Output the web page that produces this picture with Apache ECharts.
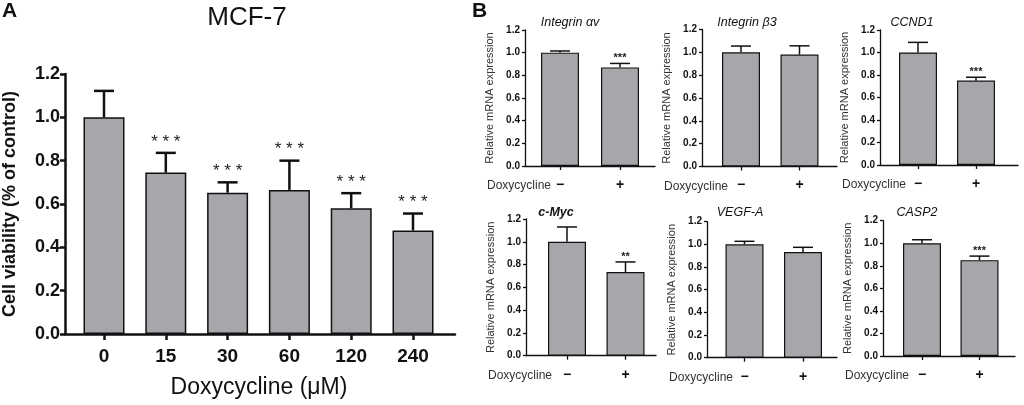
<!DOCTYPE html>
<html>
<head>
<meta charset="utf-8">
<script src="https://cdn.jsdelivr.net/npm/echarts@6/dist/echarts.min.js"></script>
<style>
html, body { margin: 0; padding: 0; background: #fff; }
#main { width: 1024px; height: 405px; }
</style>
</head>
<body>
<div id="main"></div>
<script>
// panel A - MCF-7 cell viability
const doses = ['0', '15', '30', '60', '120', '240'];
const viability = [1.0, 0.745, 0.652, 0.665, 0.58, 0.478];
const viabilityErr = [0.122, 0.091, 0.048, 0.135, 0.07, 0.078];
const viabilityStars = ['', '* * *', '* * *', '* * *', '* * *', '* * *'];

// panel B - relative mRNA expression
const treatment = ['−', '+'];
const genes = ['Integrin αv', 'Integrin β3', 'CCND1', 'c-Myc', 'VEGF-A', 'CASP2'];
const geneMean = [[1.0, 0.87], [1.0, 0.98], [1.0, 0.75], [1.0, 0.735], [1.0, 0.932], [1.0, 0.85]];
const geneErr = [[0.015, 0.035], [0.055, 0.077], [0.09, 0.03], [0.13, 0.088], [0.027, 0.042], [0.031, 0.036]];
const geneStars = [['', '***'], ['', ''], ['', '***'], ['', '**'], ['', ''], ['', '***']];

const FONT = '"Liberation Sans", Arial, sans-serif';
const BAR = '#a6a6ab';
const INK = '#111';

// where each small plot of panel B sits
const layoutB = [
    { frame: [525, 655], first: 560, step: 60, top: 30, zero: 166, titleX: 570, titleY: 23 },
    { frame: [702, 837], first: 741, step: 58.5, top: 29.5, zero: 166.5, titleX: 747, titleY: 23 },
    { frame: [880, 1018], first: 918, step: 58, top: 30, zero: 165, titleX: 912, titleY: 23 },
    { frame: [526, 656], first: 567, step: 58.5, top: 219, zero: 355.7, titleX: 556, titleY: 213 },
    { frame: [707, 837], first: 744.5, step: 58.5, top: 221.7, zero: 357.7, titleX: 740, titleY: 213 },
    { frame: [883, 1015], first: 922, step: 57.5, top: 220.7, zero: 356, titleX: 917, titleY: 213 },
];

const option = {
    animation: false,
    backgroundColor: '#fff',
    grid: [],
    xAxis: [],
    yAxis: [],
    series: [],
    graphic: [],
};

function addPanel(p) {
    const g = option.grid.length;
    const h = p.zero - p.top;
    // frame grid: holds the y axis and the full length x axis line
    option.grid.push({ left: p.frame[0], top: p.top, width: p.frame[1] - p.frame[0], height: h });
    // bar grid: category slots, slightly inset from the y axis
    option.grid.push({ left: p.first - p.step / 2, top: p.top, width: p.step * p.categories.length, height: h });

    option.xAxis.push({
        gridIndex: g, type: 'value', min: 0, max: 1,
        axisLine: { show: true, lineStyle: { color: INK, width: p.axisWidth } },
        axisTick: { show: false }, axisLabel: { show: false }, splitLine: { show: false },
    });
    option.yAxis.push({
        gridIndex: g, type: 'value', min: 0, max: 1.2, interval: 0.2,
        name: p.yName, nameLocation: 'middle', nameGap: p.yNameGap,
        nameTextStyle: { fontFamily: FONT, fontSize: p.yNameSize, fontWeight: p.yNameWeight, color: p.yNameColor },
        axisLine: { show: true, lineStyle: { color: INK, width: p.axisWidth } },
        axisTick: { show: true, length: p.yTickLen, lineStyle: { color: INK, width: p.axisWidth } },
        axisLabel: {
            margin: p.yLabelMargin, fontFamily: FONT, fontSize: p.yLabelSize, fontWeight: 'bold', color: INK,
            formatter: v => v.toFixed(1),
        },
        splitLine: { show: false },
    });
    option.xAxis.push({
        gridIndex: g + 1, type: 'category', data: p.categories,
        axisLine: { show: false },
        axisTick: { show: true, alignWithLabel: true, length: p.xTickLen, lineStyle: { color: INK, width: p.axisWidth } },
        axisLabel: { margin: p.xLabelMargin, fontFamily: FONT, fontSize: p.xLabelSize, fontWeight: 'bold', color: INK },
    });
    option.yAxis.push({ gridIndex: g + 1, type: 'value', min: 0, max: 1.2, show: false });

    option.series.push({
        type: 'bar', xAxisIndex: g + 1, yAxisIndex: g + 1,
        data: p.values, barWidth: p.barWidth,
        itemStyle: { color: BAR, borderColor: INK, borderWidth: p.borderWidth },
    });
    option.series.push({
        type: 'custom', xAxisIndex: g + 1, yAxisIndex: g + 1, z: 5,
        data: p.values.map((v, i) => [i, v, v + p.err[i]]),
        encode: { x: 0, y: [1, 2] },
        renderItem: (params, api) => {
            const i = api.value(0);
            const base = api.coord([i, api.value(1)]);
            const tip = api.coord([i, api.value(2)]);
            const stroke = { stroke: INK, lineWidth: p.errWidth };
            const children = [
                { type: 'line', shape: { x1: base[0], y1: base[1], x2: tip[0], y2: tip[1] }, style: stroke },
                { type: 'line', shape: { x1: tip[0] - p.cap, y1: tip[1], x2: tip[0] + p.cap, y2: tip[1] }, style: stroke },
            ];
            const s = p.stars[params.dataIndex];
            if (s) {
                children.push({
                    type: 'text', x: tip[0], y: tip[1] - p.starGap,
                    style: {
                        text: s, font: p.starFont, fill: '#222',
                        textAlign: 'center', textVerticalAlign: 'middle',
                    },
                });
            }
            return { type: 'group', children };
        },
    });
}

function addText(text, x, y, font, align, extra) {
    option.graphic.push({
        type: 'text', x, y,
        style: Object.assign({ text, font, fill: INK, textAlign: align || 'center', textVerticalAlign: 'middle' }, extra || {}),
    });
}

// panel A
addPanel({
    frame: [56, 455], first: 104, step: 61.8, top: 74, zero: 334,
    categories: doses, values: viability, err: viabilityErr, stars: viabilityStars,
    axisWidth: 2.5, yTickLen: 5, xTickLen: 6, yLabelMargin: 5, xLabelMargin: 13,
    yLabelSize: 18, xLabelSize: 19,
    yName: 'Cell viability (% of control)', yNameGap: 46, yNameSize: 18, yNameWeight: 'bold', yNameColor: INK,
    barWidth: 41, borderWidth: 1.5, errWidth: 2.5, cap: 10,
    starFont: '17px ' + FONT, starGap: 11,
});
addText('A', 2, 11, 'bold 21px ' + FONT, 'left');
addText('MCF-7', 247, 18, '26px ' + FONT);
addText('Doxycycline (μM)', 259, 388, '23px ' + FONT);

// panel B
addText('B', 472, 11, 'bold 21px ' + FONT, 'left');
layoutB.forEach((l, k) => {
    addPanel(Object.assign({}, l, {
        categories: treatment, values: geneMean[k], err: geneErr[k], stars: geneStars[k],
        axisWidth: 1.3, yTickLen: 3, xTickLen: 4, yLabelMargin: 5, xLabelMargin: 12,
        yLabelSize: 10, xLabelSize: 14,
        yName: 'Relative mRNA expression', yNameGap: 30, yNameSize: 11, yNameWeight: 'normal', yNameColor: '#333',
        barWidth: 38, borderWidth: 1.2, errWidth: 1.5, cap: 10,
        starFont: 'bold 11px ' + FONT, starGap: 5,
    }));
    const titleFont = (k === 3 ? 'italic bold 12.5px ' : 'italic 12.5px ') + FONT;
    addText(genes[k], l.titleX, l.titleY, titleFont);
    addText('Doxycycline', l.frame[0] - 38, l.zero + 20, '12px ' + FONT, 'left', { fill: '#333' });
});

const chart = echarts.init(document.getElementById('main'));
chart.setOption(option);
</script>
</body>
</html>
